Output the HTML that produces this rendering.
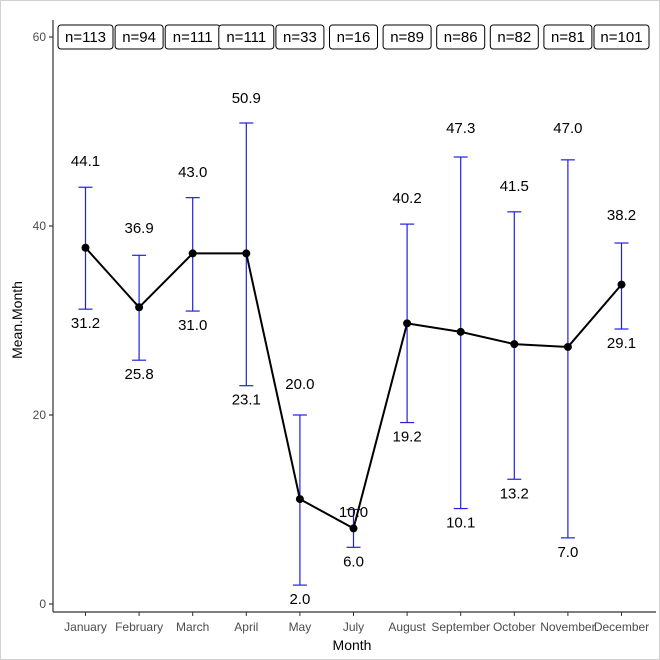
<!DOCTYPE html>
<html><head><style>body{margin:0;background:#fff}svg{display:block}</style></head><body>
<svg width="660" height="660" xmlns="http://www.w3.org/2000/svg" font-family="Liberation Sans, sans-serif">
<rect x="0.5" y="0.5" width="659" height="659" fill="#fff" stroke="#d0d0d0"/>
<g stroke="#333" stroke-width="1.2">
<line x1="53" y1="20" x2="53" y2="612"/><line x1="53" y1="612" x2="656" y2="612"/>
<line x1="49" y1="37" x2="53" y2="37"/><line x1="49" y1="226" x2="53" y2="226"/><line x1="49" y1="415" x2="53" y2="415"/><line x1="49" y1="604" x2="53" y2="604"/>
</g>
<g font-size="12" fill="#4d4d4d" text-anchor="end">
<text x="46" y="41">60</text><text x="46" y="230">40</text><text x="46" y="419">20</text><text x="46" y="608">0</text>
</g>
<g id="xt" font-size="12" fill="#4d4d4d" text-anchor="middle"></g>
<text x="352" y="650" font-size="14" text-anchor="middle" fill="#000">Month</text>
<text transform="translate(22,320) rotate(-90)" font-size="14" text-anchor="middle" fill="#000">Mean.Month</text>
<g id="g"></g>
</svg>
<script>
var m=["January","February","March","April","May","July","August","September","October","November","December"];
var mean=[37.7,31.4,37.1,37.1,11.1,8.0,29.7,28.8,27.5,27.2,33.8];
var up=[44.1,36.9,43.0,50.9,20.0,10.0,40.2,47.3,41.5,47.0,38.2];
var lo=[31.2,25.8,31.0,23.1,2.0,6.0,19.2,10.1,13.2,7.0,29.1];
var uy=[161,228,172,98,384,512,198,128,186,128,215];
var n=[113,94,111,111,33,16,89,86,82,81,101];
function Y(v){return 604-v*9.45}
function X(i){return 85.5+i*53.6}
var s="",t="",pts=[];
for(var i=0;i<11;i++){var x=X(i);
t+='<line x1="'+x+'" y1="612" x2="'+x+'" y2="616" stroke="#333"/><text x="'+x+'" y="631">'+m[i]+'</text>';
s+='<g stroke="#2020e0" stroke-width="1.2"><line x1="'+x+'" y1="'+Y(up[i])+'" x2="'+x+'" y2="'+Y(lo[i])+'"/><line x1="'+(x-7)+'" y1="'+Y(up[i])+'" x2="'+(x+7)+'" y2="'+Y(up[i])+'"/><line x1="'+(x-7)+'" y1="'+Y(lo[i])+'" x2="'+(x+7)+'" y2="'+Y(lo[i])+'"/></g>';
s+='<text x="'+x+'" y="'+(uy[i]+5)+'" font-size="15" text-anchor="middle">'+up[i].toFixed(1)+'</text>';
s+='<text x="'+x+'" y="'+(Y(lo[i])+19)+'" font-size="15" text-anchor="middle">'+lo[i].toFixed(1)+'</text>';
var w=String(n[i]).length==3?55:48;
s+='<rect x="'+(x-w/2)+'" y="25" width="'+w+'" height="24" rx="3" fill="#fff" stroke="#000" stroke-width="1"/><text x="'+x+'" y="42" font-size="15" text-anchor="middle">n='+n[i]+'</text>';
pts.push(x+','+Y(mean[i]));}
s+='<polyline points="'+pts.join(' ')+'" fill="none" stroke="#000" stroke-width="2"/>';
for(var i=0;i<11;i++)s+='<circle cx="'+X(i)+'" cy="'+Y(mean[i])+'" r="4" fill="#000"/>';
document.getElementById('xt').innerHTML=t;document.getElementById('g').innerHTML=s;
</script>
</body></html>
